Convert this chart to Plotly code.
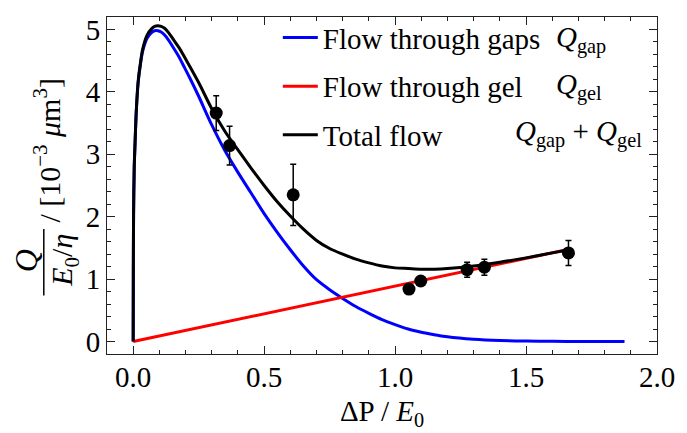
import plotly.graph_objects as go

# ---- data ----
gap_x = [0, 0.0005, 0.0015, 0.004, 0.0065, 0.012, 0.019, 0.028, 0.036, 0.053, 0.07, 0.082, 0.094,
         0.107, 0.12, 0.135, 0.15, 0.175, 0.197, 0.22, 0.25, 0.30, 0.35, 0.40, 0.45, 0.50, 0.55,
         0.60, 0.65, 0.70, 0.75, 0.80, 0.85, 0.90, 0.95, 1.00, 1.05, 1.10, 1.15, 1.20, 1.30,
         1.40, 1.50, 1.60, 1.70, 1.876]
gap_y = [0, 1.05, 2.05, 2.8, 3.1, 3.7, 4.15, 4.45, 4.65, 4.86, 4.95, 4.98, 4.98,
         4.96, 4.91, 4.83, 4.73, 4.56, 4.38, 4.19, 3.93, 3.47, 3.06, 2.71, 2.38, 2.05, 1.75,
         1.47, 1.21, 0.99, 0.83, 0.69, 0.56, 0.45, 0.35, 0.27, 0.20, 0.15, 0.11, 0.075, 0.035,
         0.015, 0.007, 0.003, 0.001, 0.0]

gel_x = [0, 1.665]
gel_y = [0, 1.48]

tot_x = [0, 0.0005, 0.0015, 0.004, 0.0065, 0.012, 0.019, 0.028, 0.036, 0.053, 0.07, 0.082, 0.094,
         0.107, 0.12, 0.135, 0.15, 0.175, 0.197, 0.22, 0.25, 0.30, 0.35, 0.40, 0.45, 0.50, 0.55,
         0.60, 0.65, 0.70, 0.75, 0.80, 0.85, 0.90, 0.95, 1.00, 1.05, 1.10, 1.15, 1.20, 1.30,
         1.40, 1.50, 1.60, 1.665]
tot_y = [0, 1.05, 2.05, 2.8, 3.11, 3.71, 4.17, 4.47, 4.68, 4.91, 5.01, 5.05, 5.06,
         5.05, 5.02, 4.95, 4.86, 4.71, 4.55, 4.38, 4.15, 3.73, 3.37, 3.07, 2.78, 2.50, 2.24,
         2.01, 1.80, 1.62, 1.49, 1.40, 1.32, 1.26, 1.21, 1.18, 1.17, 1.16, 1.16, 1.17, 1.21,
         1.27, 1.34, 1.42, 1.47]

pts_x = [0.317, 0.368, 0.611, 1.053, 1.098, 1.275, 1.341, 1.662]
pts_y = [3.66, 3.14, 2.35, 0.84, 0.97, 1.15, 1.19, 1.42]
pts_err = [0.28, 0.31, 0.49, 0.04, 0.04, 0.12, 0.13, 0.20]

x_ticks = [0.0, 0.5, 1.0, 1.5, 2.0]
y_ticks = [0, 1, 2, 3, 4, 5]

FONT = "'Liberation Serif', 'Times New Roman', Times, serif"

fig = go.Figure()
fig.add_trace(go.Scatter(x=gap_x, y=gap_y, mode="lines",
                         line=dict(color="#0000ff", width=3, shape="spline", smoothing=0.8),
                         name="Flow through gaps", legendgroup="a"))
fig.add_trace(go.Scatter(x=gel_x, y=gel_y, mode="lines", line=dict(color="#ff0000", width=3),
                         name="Flow through gel", legendgroup="b"))
fig.add_trace(go.Scatter(x=tot_x, y=tot_y, mode="lines",
                         line=dict(color="#000000", width=3, shape="spline", smoothing=0.8),
                         name="Total flow", legendgroup="c"))
fig.add_trace(go.Scatter(x=pts_x, y=pts_y, mode="markers", showlegend=False,
                         marker=dict(color="black", size=13),
                         error_y=dict(type="data", array=pts_err, color="black", thickness=1.5, width=3)))

L, R, T, B = 107, 23, 13, 75
W, H = 687, 433
pw, ph = W - L - R, H - T - B


def px2paper(px, py):
    return (px - L) / pw, (H - B - py) / ph


axis_common = dict(showline=True, linecolor="#222", linewidth=1, mirror="ticks",
                   ticks="inside", ticklen=8, tickwidth=1, tickcolor="#222",
                   showgrid=False, zeroline=False,
                   tickfont=dict(family=FONT, size=29, color="black"))

fig.update_xaxes(range=[-0.1, 2.0], tickvals=x_ticks, ticktext=[f"{v:.1f}" for v in x_ticks],
                 minor=dict(dtick=0.1, tick0=0, ticks="inside", ticklen=4, tickcolor="#222"),
                 title=dict(text="ΔP / <i>E</i><sub>0</sub>", font=dict(family=FONT, size=29, color="black"),
                            standoff=8),
                 ticklabelstandoff=-3,
                 **axis_common)
fig.update_yaxes(range=[-0.2, 5.2], tickvals=y_ticks, ticktext=[str(v) for v in y_ticks],
                 minor=dict(dtick=0.2, tick0=0, ticks="inside", ticklen=4, tickcolor="#222"),
                 **axis_common)

ann = []
# y-axis title pieces (rotated fraction)
x, y = px2paper(25, 263)
ann.append(dict(text="<i>Q</i>", x=x, y=y, textangle=-90, font=dict(family=FONT, size=32, color="black")))
x, y = px2paper(64, 262)
ann.append(dict(text="<i>E</i><sub>0</sub>/<i>η</i>", x=x, y=y, textangle=-90,
                font=dict(family=FONT, size=30, color="black")))
x, y = px2paper(46, 149)
ann.append(dict(text="/ [10<sup>−3</sup> <i>μ</i>m<sup>3</sup>]", x=x, y=y, textangle=-90,
                font=dict(family=FONT, size=30, color="black")))
# legend formula labels
for txt, cx, cy in [("<i>Q</i><sub>gap</sub>", 587, 36), ("<i>Q</i><sub>gel</sub>", 585, 84),
                    ("<i>Q</i><sub>gap</sub> + <i>Q</i><sub>gel</sub>", 585, 132)]:
    x, y = px2paper(cx, cy)
    ann.append(dict(text=txt, x=x, y=y, font=dict(family=FONT, size=29, color="black")))
for a in ann:
    a.update(xref="paper", yref="paper", showarrow=False, xanchor="center", yanchor="middle")

x0, y0 = px2paper(43, 230)
x1, y1 = px2paper(43, 298)
fig.add_shape(type="line", xref="paper", yref="paper", x0=x0, y0=y0, x1=x1, y1=y1,
              line=dict(color="black", width=1.5))

lx, ly = px2paper(280, 8)
fig.update_layout(
    width=W, height=H, margin=dict(l=L, r=R, t=T, b=B, pad=0),
    paper_bgcolor="white", plot_bgcolor="white",
    annotations=ann,
    legend=dict(x=lx, y=ly, xanchor="left", yanchor="top", bgcolor="rgba(0,0,0,0)",
                font=dict(family=FONT, size=29, color="black"), traceorder="grouped",
                tracegroupgap=8, itemwidth=35),
)

fig.write_html("out.html")
